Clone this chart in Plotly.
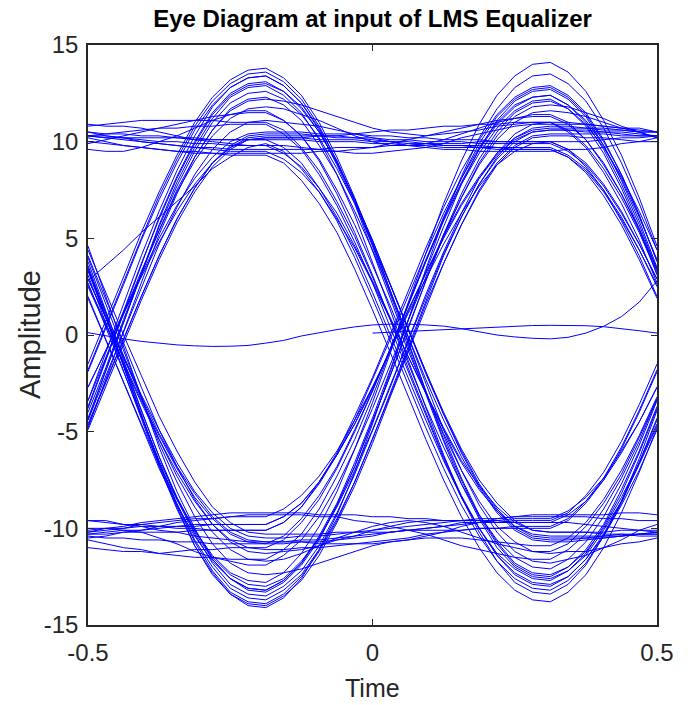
import plotly.graph_objects as go

# ---------------- data ----------------
T_FULL = [-0.5, -0.46875, -0.4375, -0.40625, -0.375, -0.34375, -0.3125, -0.28125,
          -0.25, -0.21875, -0.1875, -0.15625, -0.125, -0.09375, -0.0625, -0.03125,
          0.0, 0.03125, 0.0625, 0.09375, 0.125, 0.15625, 0.1875, 0.21875,
          0.25, 0.28125, 0.3125, 0.34375, 0.375, 0.40625, 0.4375, 0.46875, 0.5]
T_HALF = [0.0, 0.03125, 0.0625, 0.09375, 0.125, 0.15625, 0.1875, 0.21875,
          0.25, 0.28125, 0.3125, 0.34375, 0.375, 0.40625, 0.4375, 0.46875, 0.5]

TR_B = [0.1, 0.14, 0.18, 0.22, 0.27, 0.32, 0.37, 0.42, 0.46, 0.49, 0.5, 0.5, 0.48, 0.43, 0.34, 0.22, 0.1]
TR_A = [0.12, -0.05, -0.2, -0.33, -0.43, -0.51, -0.56, -0.59, -0.58, -0.54,
        -0.42, -0.28, -0.05, 0.12, 0.28, 0.42, 0.52, 0.56, 0.56, 0.52, 0.46, 0.33, 0.15, 0.0, -0.1, -0.17,
        -0.2, -0.12, 0.1, 0.45, 0.95, 1.7, 2.8]
TR00 = [2.8, 3.6, 4.4, 5.3, 6.1, 6.9, 7.7, 8.6, 9.2, 9.7, 9.9, 9.5, 8.6, 7.4, 5.9, 4.0, 1.9, -0.3, -2.6, -4.8, -6.9, -8.8, -10.4, -11.7, -12.6, -13.1, -13.2, -12.7, -11.8, -10.4, -8.7, -6.6, -4.3]
TR01 = [-4.3, -1.8, 0.7, 3.2, 5.6, 7.7, 9.5, 11.0, 12.0, 12.5, 12.6, 12.2, 11.4, 10.2, 8.6, 6.8, 4.7, 2.6, 0.3, -1.9, -4.0, -5.9, -7.5, -8.7, -9.6, -10.1, -10.2, -10.2, -10.2, -10.2, -10.1, -10.1, -10.1]
TR02 = [-10.1, -10.0, -10.0, -9.9, -9.9, -9.9, -9.8, -9.8, -9.8, -9.8, -9.8, -9.4, -8.7, -7.6, -6.2, -4.6, -2.8, -0.8, 1.2, 3.2, 5.0, 6.7, 8.1, 9.3, 10.1, 10.5, 10.6, 10.6, 10.5, 10.5, 10.4, 10.3, 10.3]
TR03 = [10.3, 10.2, 10.1, 10.0, 9.9, 9.8, 9.7, 9.7, 9.6, 9.6, 9.6, 9.6, 9.6, 9.6, 9.7, 9.7, 9.7, 9.8, 9.8, 9.9, 9.9, 9.9, 10.0, 10.0, 10.0, 10.0, 10.0, 9.6, 8.9, 7.8, 6.4, 4.7, 2.9]
TR04 = [2.9, 0.9, -1.2, -3.2, -5.1, -6.8, -8.2, -9.4, -10.2, -10.6, -10.7, -10.7, -10.6, -10.6, -10.5, -10.4, -10.3, -10.2, -10.1, -10.0, -9.9, -9.8, -9.7, -9.7, -9.6, -9.6, -9.6, -9.2, -8.3, -7.1, -5.5, -3.6, -1.5]
TR05 = [-1.5, 0.7, 3.0, 5.3, 7.4, 9.3, 11.0, 12.3, 13.2, 13.7, 13.8, 13.3, 12.4, 11.0, 9.2, 7.1, 4.8, 2.3, -0.3, -2.9, -5.2, -7.4, -9.3, -10.7, -11.8, -12.3, -12.4, -12.0, -11.2, -10.0, -8.4, -6.6, -4.6]
TR06 = [-4.6, -2.4, -0.2, 2.0, 4.1, 6.0, 7.6, 8.9, 9.7, 10.2, 10.3, 10.3, 10.3, 10.3, 10.2, 10.2, 10.2, 10.1, 10.1, 10.0, 10.0, 10.0, 9.9, 9.9, 9.9, 9.9, 9.9, 9.5, 8.8, 7.7, 6.3, 4.7, 2.9]
TR07 = [2.9, 0.9, -1.1, -3.1, -4.9, -6.6, -8.1, -9.2, -10.0, -10.4, -10.5, -10.5, -10.4, -10.4, -10.3, -10.2, -10.1, -10.0, -9.9, -9.8, -9.7, -9.6, -9.5, -9.5, -9.4, -9.4, -9.4, -9.4, -9.4, -9.5, -9.5, -9.6, -9.6]
TR08 = [-9.6, -9.7, -9.8, -9.8, -9.9, -10.0, -10.0, -10.1, -10.1, -10.1, -10.1, -9.7, -8.9, -7.6, -6.1, -4.2, -2.2, 0.0, 2.3, 4.5, 6.6, 8.5, 10.1, 11.4, 12.3, 12.8, 12.9, 12.4, 11.5, 10.1, 8.3, 6.2, 3.8]
TR09 = [3.8, 1.3, -1.3, -3.9, -6.3, -8.5, -10.3, -11.8, -12.9, -13.4, -13.5, -13.0, -12.2, -10.9, -9.2, -7.2, -5.0, -2.7, -0.3, 2.1, 4.3, 6.3, 8.1, 9.4, 10.4, 10.9, 11.0, 11.0, 10.9, 10.8, 10.7, 10.6, 10.5]
TR10 = [10.5, 10.3, 10.2, 10.0, 9.9, 9.8, 9.7, 9.6, 9.5, 9.5, 9.5, 9.1, 8.4, 7.4, 6.0, 4.5, 2.7, 0.8, -1.1, -3.0, -4.8, -6.5, -7.8, -8.9, -9.7, -10.1, -10.2, -10.2, -10.2, -10.3, -10.3, -10.4, -10.4]
TR11 = [-10.4, -10.5, -10.5, -10.6, -10.6, -10.7, -10.7, -10.8, -10.8, -10.8, -10.8, -10.4, -9.5, -8.3, -6.8, -4.9, -2.9, -0.7, 1.6, 3.8, 5.9, 7.8, 9.4, 10.7, 11.6, 12.1, 12.2, 11.7, 10.8, 9.4, 7.6, 5.5, 3.1]
TR12 = [3.1, 0.6, -1.9, -4.4, -6.8, -9.0, -10.9, -12.3, -13.4, -13.9, -14.0, -13.5, -12.7, -11.4, -9.7, -7.8, -5.6, -3.2, -0.9, 1.5, 3.7, 5.7, 7.5, 8.9, 9.8, 10.3, 10.4, 10.4, 10.4, 10.4, 10.3, 10.3, 10.3]
TR13 = [10.3, 10.3, 10.2, 10.2, 10.2, 10.2, 10.1, 10.1, 10.1, 10.1, 10.1, 9.7, 8.9, 7.6, 6.1, 4.3, 2.2, 0.0, -2.2, -4.4, -6.5, -8.4, -10.0, -11.3, -12.1, -12.6, -12.7, -12.2, -11.3, -9.9, -8.2, -6.1, -3.8]
TR14 = [-3.8, -1.3, 1.2, 3.7, 6.1, 8.2, 10.0, 11.5, 12.5, 13.0, 13.1, 12.6, 11.8, 10.5, 8.9, 7.0, 4.9, 2.6, 0.3, -2.0, -4.1, -6.1, -7.8, -9.1, -10.0, -10.5, -10.6, -10.6, -10.5, -10.5, -10.4, -10.3, -10.2]
TR15 = [-10.2, -10.1, -10.0, -9.8, -9.7, -9.6, -9.5, -9.5, -9.4, -9.4, -9.4, -9.0, -8.3, -7.3, -6.0, -4.4, -2.7, -0.8, 1.1, 2.9, 4.7, 6.3, 7.7, 8.8, 9.5, 9.9, 10.0, 10.0, 10.0, 10.1, 10.2, 10.2, 10.3]
TR16 = [10.3, 10.4, 10.5, 10.6, 10.7, 10.7, 10.8, 10.8, 10.9, 10.9, 10.9, 10.4, 9.6, 8.3, 6.7, 4.8, 2.7, 0.4, -1.9, -4.2, -6.4, -8.4, -10.0, -11.4, -12.3, -12.8, -12.9, -12.5, -11.6, -10.4, -8.8, -7.0, -4.9]
TR17 = [-4.9, -2.7, -0.4, 1.8, 3.9, 5.8, 7.4, 8.7, 9.6, 10.1, 10.2, 10.2, 10.2, 10.1, 10.1, 10.1, 10.0, 10.0, 9.9, 9.9, 9.8, 9.8, 9.8, 9.7, 9.7, 9.7, 9.7, 9.3, 8.6, 7.5, 6.1, 4.4, 2.5]
TR18 = [2.5, 0.5, -1.5, -3.5, -5.4, -7.1, -8.6, -9.8, -10.6, -11.0, -11.1, -11.1, -11.0, -11.0, -10.9, -10.8, -10.7, -10.6, -10.5, -10.3, -10.2, -10.1, -10.0, -10.0, -9.9, -9.9, -9.9, -9.5, -8.6, -7.4, -5.8, -3.9, -1.8]
TR19 = [-1.8, 0.5, 2.8, 5.0, 7.2, 9.1, 10.8, 12.1, 13.0, 13.5, 13.6, 13.1, 12.2, 10.8, 9.0, 6.9, 4.6, 2.1, -0.5, -3.0, -5.4, -7.5, -9.4, -10.8, -11.9, -12.4, -12.5, -12.0, -11.1, -9.8, -8.0, -6.0, -3.7]
TR20 = [-3.7, -1.2, 1.2, 3.7, 6.0, 8.1, 9.9, 11.4, 12.4, 12.9, 13.0, 12.6, 11.7, 10.5, 8.9, 7.0, 4.9, 2.6, 0.3, -1.9, -4.1, -6.0, -7.7, -9.0, -9.9, -10.4, -10.5, -10.5, -10.5, -10.4, -10.4, -10.3, -10.3]
TR21 = [-10.3, -10.2, -10.1, -10.1, -10.0, -9.9, -9.9, -9.8, -9.8, -9.8, -9.8, -9.4, -8.7, -7.6, -6.2, -4.6, -2.7, -0.8, 1.3, 3.2, 5.1, 6.8, 8.2, 9.4, 10.2, 10.6, 10.7, 10.7, 10.7, 10.6, 10.6, 10.5, 10.5]
TR22 = [10.5, 10.4, 10.4, 10.3, 10.3, 10.2, 10.2, 10.1, 10.1, 10.1, 10.1, 10.1, 10.1, 10.0, 10.0, 10.0, 9.9, 9.9, 9.8, 9.8, 9.7, 9.7, 9.7, 9.6, 9.6, 9.6, 9.6, 9.2, 8.4, 7.2, 5.7, 3.9, 1.9]
TR23 = [1.9, -0.3, -2.5, -4.6, -6.7, -8.5, -10.1, -11.4, -12.3, -12.7, -12.8, -12.3, -11.3, -9.9, -8.1, -5.9, -3.5, -0.9, 1.7, 4.3, 6.8, 9.0, 10.9, 12.4, 13.4, 14.0, 14.1, 13.6, 12.6, 11.1, 9.3, 7.1, 4.6]
TR24 = [4.6, 2.0, -0.7, -3.3, -5.8, -8.1, -10.0, -11.6, -12.6, -13.2, -13.3, -12.8, -11.9, -10.6, -8.8, -6.8, -4.5, -2.1, 0.4, 2.8, 5.2, 7.3, 9.1, 10.5, 11.5, 12.0, 12.1, 11.7, 10.9, 9.7, 8.2, 6.4, 4.4]
TR25 = [4.4, 2.2, 0.0, -2.1, -4.2, -6.0, -7.6, -8.9, -9.7, -10.2, -10.3, -10.3, -10.3, -10.3, -10.2, -10.2, -10.2, -10.2, -10.1, -10.1, -10.1, -10.1, -10.0, -10.0, -10.0, -10.0, -10.0, -9.6, -8.7, -7.5, -5.9, -4.0, -1.9]
TR26 = [-1.9, 0.3, 2.6, 4.9, 7.0, 8.9, 10.6, 11.9, 12.8, 13.3, 13.4, 12.9, 12.0, 10.6, 8.8, 6.8, 4.4, 1.9, -0.6, -3.1, -5.5, -7.7, -9.5, -11.0, -12.0, -12.5, -12.6, -12.2, -11.4, -10.1, -8.6, -6.7, -4.7]
TR27 = [-4.7, -2.5, -0.2, 2.0, 4.1, 6.0, 7.6, 8.9, 9.8, 10.3, 10.4, 10.4, 10.4, 10.3, 10.3, 10.2, 10.1, 10.0, 10.0, 9.9, 9.8, 9.8, 9.7, 9.7, 9.6, 9.6, 9.6, 9.2, 8.5, 7.4, 6.0, 4.4, 2.6]
TR28 = [2.6, 0.6, -1.4, -3.4, -5.2, -6.9, -8.4, -9.5, -10.3, -10.7, -10.8, -10.8, -10.7, -10.7, -10.6, -10.5, -10.4, -10.2, -10.1, -10.0, -9.9, -9.7, -9.7, -9.6, -9.5, -9.5, -9.5, -9.1, -8.4, -7.4, -6.0, -4.5, -2.7]
TR29 = [-2.7, -0.8, 1.1, 3.0, 4.8, 6.4, 7.8, 8.9, 9.7, 10.1, 10.2, 10.2, 10.2, 10.3, 10.3, 10.4, 10.5, 10.6, 10.6, 10.7, 10.8, 10.8, 10.9, 10.9, 11.0, 11.0, 11.0, 10.5, 9.7, 8.4, 6.8, 4.9, 2.7]
TR30 = [2.7, 0.4, -1.9, -4.3, -6.5, -8.4, -10.1, -11.5, -12.4, -12.9, -13.0, -12.6, -11.7, -10.5, -8.9, -7.0, -4.9, -2.6, -0.3, 2.0, 4.2, 6.1, 7.8, 9.1, 10.0, 10.5, 10.6, 10.6, 10.6, 10.5, 10.5, 10.4, 10.3]
TR31 = [10.3, 10.2, 10.2, 10.1, 10.0, 10.0, 9.9, 9.9, 9.8, 9.8, 9.8, 9.4, 8.7, 7.6, 6.3, 4.6, 2.8, 0.9, -1.1, -3.0, -4.9, -6.6, -8.0, -9.1, -9.9, -10.3, -10.4, -10.4, -10.4, -10.4, -10.3, -10.3, -10.3]
TR32 = [-10.3, -10.3, -10.2, -10.2, -10.2, -10.2, -10.1, -10.1, -10.1, -10.1, -10.1, -9.7, -8.9, -7.7, -6.2, -4.4, -2.3, -0.2, 2.0, 4.2, 6.3, 8.1, 9.7, 11.0, 11.9, 12.3, 12.4, 11.9, 11.0, 9.6, 7.8, 5.7, 3.4]
TR33 = [3.4, 0.9, -1.7, -4.2, -6.6, -8.7, -10.6, -12.0, -13.1, -13.6, -13.7, -13.2, -12.4, -11.1, -9.5, -7.6, -5.4, -3.1, -0.8, 1.6, 3.7, 5.7, 7.4, 8.8, 9.7, 10.2, 10.3, 10.3, 10.2, 10.2, 10.1, 10.0, 10.0]
TR34 = [10.0, 9.9, 9.8, 9.7, 9.6, 9.5, 9.4, 9.4, 9.3, 9.3, 9.3, 8.9, 8.0, 6.8, 5.3, 3.4, 1.3, -0.9, -3.1, -5.4, -7.5, -9.4, -11.0, -12.3, -13.2, -13.7, -13.8, -13.3, -12.4, -11.0, -9.2, -7.1, -4.8]
TR35 = [-4.8, -2.3, 0.3, 2.8, 5.2, 7.3, 9.2, 10.6, 11.7, 12.2, 12.3, 11.9, 11.1, 9.8, 8.3, 6.4, 4.4, 2.2, -0.1, -2.3, -4.4, -6.3, -7.9, -9.2, -10.1, -10.6, -10.7, -10.7, -10.6, -10.5, -10.4, -10.3, -10.2]
TR36 = [-10.2, -10.0, -9.9, -9.7, -9.6, -9.5, -9.4, -9.3, -9.2, -9.2, -9.2, -9.2, -9.2, -9.3, -9.3, -9.3, -9.4, -9.4, -9.5, -9.5, -9.6, -9.6, -9.6, -9.7, -9.7, -9.7, -9.7, -9.3, -8.6, -7.5, -6.1, -4.5, -2.7]
TR37 = [-2.7, -0.8, 1.2, 3.1, 5.0, 6.7, 8.1, 9.2, 10.0, 10.4, 10.5, 10.5, 10.5, 10.4, 10.4, 10.4, 10.3, 10.3, 10.2, 10.2, 10.1, 10.1, 10.1, 10.0, 10.0, 10.0, 10.0, 9.6, 8.7, 7.5, 5.9, 4.1, 2.0]
TR38 = [2.0, -0.2, -2.5, -4.7, -6.9, -8.8, -10.4, -11.7, -12.6, -13.1, -13.2, -12.7, -11.8, -10.4, -8.7, -6.6, -4.3, -1.8, 0.8, 3.3, 5.6, 7.8, 9.6, 11.1, 12.1, 12.6, 12.7, 12.2, 11.3, 9.8, 8.0, 5.9, 3.5]
TR39 = [3.5, 1.0, -1.6, -4.2, -6.6, -8.8, -10.7, -12.2, -13.3, -13.8, -13.9, -13.4, -12.5, -11.2, -9.6, -7.6, -5.4, -3.0, -0.6, 1.8, 4.1, 6.1, 7.8, 9.2, 10.2, 10.7, 10.8, 10.8, 10.7, 10.7, 10.6, 10.5, 10.5]
TR40 = [-3.4, -1.2, 1.1, 3.3, 5.4, 7.4, 9.0, 10.3, 11.2, 11.7, 11.8, 11.7, 11.4, 11.1, 10.7, 10.3, 10.0, 9.8, 9.8, 9.9, 10.1, 10.4, 10.7, 11.0, 11.2, 11.4, 11.4, 11.0, 10.1, 8.9, 7.3, 5.4, 3.3]
TR41 = [9.6, 9.5, 9.5, 9.7, 10.0, 10.3, 10.7, 11.1, 11.4, 11.6, 11.6, 11.1, 10.3, 9.0, 7.3, 5.3, 3.1, 0.8, -1.7, -4.0, -6.3, -8.3, -10.0, -11.4, -12.4, -12.9, -13.0, -12.5, -11.6, -10.3, -8.6, -6.6, -4.4]
TR42 = [-10.0, -10.0, -10.1, -10.2, -10.5, -10.8, -11.2, -11.5, -11.7, -11.9, -11.9, -11.4, -10.6, -9.4, -7.8, -5.9, -3.8, -1.5, 0.8, 3.0, 5.2, 7.1, 8.8, 10.1, 11.0, 11.5, 11.6, 11.5, 11.3, 11.0, 10.7, 10.5, 10.2]
TR43 = [3.4, 1.2, -1.1, -3.3, -5.4, -7.3, -8.9, -10.2, -11.1, -11.6, -11.7, -11.6, -11.3, -10.9, -10.5, -10.2, -9.9, -9.7, -9.6, -9.7, -9.9, -10.2, -10.5, -10.8, -11.0, -11.2, -11.2, -10.8, -9.9, -8.7, -7.2, -5.3, -3.3]
TR44 = [10.2, 10.0, 9.8, 9.7, 9.6, 9.5, 9.5, 9.4, 9.4, 9.4, 9.4, 9.4, 9.4, 9.5, 9.5, 9.6, 9.7, 9.9, 10.1, 10.3, 10.5, 10.7, 10.9, 11.1, 11.2, 11.3, 11.3, 10.9, 10.1, 8.8, 7.3, 5.5, 3.4]
TR45 = [-10.5, -10.4, -10.2, -10.1, -9.9, -9.7, -9.6, -9.5, -9.4, -9.3, -9.3, -9.3, -9.3, -9.4, -9.4, -9.6, -9.7, -9.9, -10.1, -10.3, -10.6, -10.9, -11.1, -11.3, -11.5, -11.6, -11.6, -11.1, -10.3, -9.0, -7.4, -5.5, -3.3]
TR46 = [3.3, 0.9, -1.6, -4.0, -6.3, -8.4, -10.2, -11.6, -12.6, -13.1, -13.2, -12.7, -11.8, -10.5, -8.8, -6.8, -4.5, -2.1, 0.3, 2.8, 5.1, 7.1, 8.9, 10.3, 11.3, 11.8, 11.9, 11.8, 11.5, 11.2, 10.8, 10.5, 10.2]
TR47 = [-3.4, -0.9, 1.6, 4.1, 6.4, 8.5, 10.3, 11.8, 12.8, 13.3, 13.4, 12.9, 12.0, 10.7, 9.0, 7.0, 4.7, 2.3, -0.2, -2.6, -4.9, -7.0, -8.8, -10.2, -11.2, -11.7, -11.8, -11.6, -11.4, -11.0, -10.6, -10.1, -9.8]
TR48 = [9.9, 10.1, 10.3, 10.5, 10.7, 10.9, 11.1, 11.3, 11.4, 11.5, 11.5, 11.1, 10.3, 9.1, 7.5, 5.7, 3.6, 1.5, -0.8, -3.0, -5.1, -7.0, -8.6, -9.9, -10.7, -11.2, -11.3, -11.2, -11.2, -11.0, -10.8, -10.7, -10.5]
TR49 = [-10.6, -10.8, -11.0, -11.1, -11.3, -11.4, -11.5, -11.5, -11.6, -11.6, -11.6, -11.1, -10.3, -9.0, -7.3, -5.4, -3.2, -0.8, 1.5, 3.9, 6.1, 8.1, 9.9, 11.3, 12.2, 12.7, 12.8, 12.3, 11.4, 10.0, 8.3, 6.2, 3.8]
TR50 = [-4.4, -2.1, 0.2, 2.5, 4.7, 6.6, 8.3, 9.6, 10.5, 11.0, 11.1, 11.0, 10.9, 10.8, 10.6, 10.4, 10.2, 10.0, 9.8, 9.7, 9.6, 9.6, 9.5, 9.5, 9.5, 9.5, 9.5, 9.6, 9.6, 9.7, 9.9, 10.0, 10.2]
TR51 = [4.1, 1.9, -0.4, -2.7, -4.9, -6.8, -8.5, -9.8, -10.7, -11.2, -11.3, -11.2, -11.1, -10.9, -10.6, -10.4, -10.1, -9.9, -9.7, -9.6, -9.6, -9.6, -9.6, -9.6, -9.7, -9.7, -9.7, -9.7, -9.8, -9.9, -10.0, -10.1, -10.2]
TR52 = [10.9, 10.8, 10.8, 10.7, 10.5, 10.3, 10.1, 10.0, 9.9, 9.8, 9.8, 9.8, 9.7, 9.6, 9.5, 9.4, 9.4, 9.5, 9.6, 9.7, 9.9, 10.2, 10.4, 10.6, 10.8, 10.9, 10.9, 10.9, 10.9, 10.8, 10.7, 10.7, 10.5]
TR53 = [-9.6, -9.6, -9.8, -9.9, -10.1, -10.2, -10.4, -10.5, -10.6, -10.7, -10.7, -10.7, -10.7, -10.8, -10.8, -10.8, -10.8, -10.7, -10.6, -10.4, -10.2, -9.9, -9.7, -9.5, -9.4, -9.3, -9.3, -9.3, -9.3, -9.3, -9.2, -9.2, -9.3]
TR54 = [3.6, 1.1, -1.6, -4.2, -6.7, -8.9, -10.9, -12.4, -13.4, -14.0, -14.1, -13.6, -12.6, -11.1, -9.3, -7.1, -4.6, -1.9, 0.8, 3.4, 6.0, 8.2, 10.2, 11.7, 12.8, 13.4, 13.5, 13.0, 12.1, 10.7, 8.9, 6.8, 4.4]
TR55 = [-4.4, -1.9, 0.7, 3.2, 5.7, 7.9, 9.7, 11.2, 12.3, 12.8, 12.9, 12.4, 11.5, 10.1, 8.3, 6.2, 3.8, 1.3, -1.3, -3.8, -6.2, -8.4, -10.2, -11.7, -12.8, -13.3, -13.4, -12.9, -11.9, -10.4, -8.6, -6.4, -3.9]
TR56 = [-4.0, -1.7, 0.8, 3.2, 5.4, 7.5, 9.2, 10.6, 11.6, 12.1, 12.2, 12.1, 11.9, 11.6, 11.3, 11.0, 10.7, 10.5, 10.4, 10.3, 10.4, 10.5, 10.6, 10.8, 10.9, 11.0, 11.0, 10.6, 9.8, 8.6, 7.1, 5.3, 3.2]
TR57 = [4.0, 1.6, -0.8, -3.3, -5.6, -7.6, -9.4, -10.8, -11.8, -12.3, -12.4, -12.3, -12.1, -11.8, -11.5, -11.2, -10.9, -10.7, -10.6, -10.5, -10.5, -10.5, -10.6, -10.7, -10.8, -10.9, -10.9, -10.5, -9.7, -8.5, -7.0, -5.2, -3.2]
TR58 = [10.8, 10.9, 11.0, 11.1, 11.1, 11.1, 11.1, 11.1, 11.0, 11.0, 11.0, 10.6, 9.7, 8.5, 6.9, 5.1, 3.0, 0.8, -1.5, -3.7, -5.8, -7.7, -9.3, -10.6, -11.5, -12.0, -12.1, -11.6, -10.7, -9.4, -7.7, -5.7, -3.4]
TR59 = [-11.0, -11.1, -11.2, -11.2, -11.3, -11.2, -11.1, -11.1, -11.0, -11.0, -11.0, -10.6, -9.7, -8.5, -6.9, -5.0, -2.9, -0.7, 1.6, 3.9, 6.0, 7.9, 9.6, 10.9, 11.8, 12.3, 12.4, 11.9, 11.1, 9.8, 8.1, 6.1, 3.9]

TITLE = "Eye Diagram at input of LMS Equalizer"
X_LABEL = "Time"
Y_LABEL = "Amplitude"
X_TICKS = [-0.5, 0, 0.5]
X_TICK_TEXT = ["-0.5", "0", "0.5"]
Y_TICKS = [-15, -10, -5, 0, 5, 10, 15]
Y_TICK_TEXT = ["-15", "-10", "-5", "0", "5", "10", "15"]

FULL_TRACES = [TR_A, TR00, TR01, TR02, TR03, TR04, TR05, TR06, TR07, TR08, TR09,
               TR10, TR11, TR12, TR13, TR14, TR15, TR16, TR17, TR18, TR19,
               TR20, TR21, TR22, TR23, TR24, TR25, TR26, TR27, TR28, TR29,
               TR30, TR31, TR32, TR33, TR34, TR35, TR36, TR37, TR38, TR39,
               TR40, TR41, TR42, TR43, TR44, TR45, TR46, TR47, TR48, TR49,
               TR50, TR51, TR52, TR53, TR54, TR55, TR56, TR57, TR58, TR59]

# ---------------- figure ----------------
LINE = dict(color="#0000FF", width=1)
FONT = "Liberation Sans, Arial, sans-serif"
AX = "#262626"

fig = go.Figure()
fig.add_trace(go.Scatter(x=T_HALF, y=TR_B, mode="lines", line=LINE, showlegend=False, hoverinfo="skip"))
for tr in FULL_TRACES:
    fig.add_trace(go.Scatter(x=T_FULL, y=tr, mode="lines", line=LINE, showlegend=False, hoverinfo="skip"))

W, H = 692, 705
L, R, T, B = 88, 35, 45, 80
pw, ph = W - L - R, H - T - B

fig.update_layout(
    width=W, height=H, autosize=False,
    margin=dict(l=L, r=R, t=T, b=B, pad=0),
    paper_bgcolor="white", plot_bgcolor="white",
    showlegend=False,
    title=dict(text=TITLE, x=(L + pw / 2) / W, xanchor="center", xref="container",
               y=1 - 19 / H, yanchor="middle", yref="container",
               font=dict(family=FONT, size=24, color="#000000", weight="bold")),
    xaxis=dict(range=[-0.5, 0.5], tickvals=X_TICKS, ticktext=X_TICK_TEXT,
               showgrid=False, zeroline=False, showline=True, linecolor=AX, linewidth=1.5,
               mirror="ticks", ticks="inside", ticklen=6, tickwidth=1.2, tickcolor=AX,
               tickfont=dict(family=FONT, size=24, color=AX), ticklabelstandoff=5),
    yaxis=dict(range=[-15, 15], tickvals=Y_TICKS, ticktext=Y_TICK_TEXT,
               showgrid=False, zeroline=False, showline=True, linecolor=AX, linewidth=1.5,
               mirror="ticks", ticks="inside", ticklen=6, tickwidth=1.2, tickcolor=AX,
               tickfont=dict(family=FONT, size=24, color=AX), ticklabelstandoff=3),
    annotations=[
        dict(text=X_LABEL, xref="paper", yref="paper", x=0.5, y=(625 - 688) / ph,
             xanchor="center", yanchor="middle", showarrow=False,
             font=dict(family=FONT, size=25, color=AX)),
        dict(text=Y_LABEL, xref="paper", yref="paper", x=(30 - L) / pw, y=0.5,
             xanchor="center", yanchor="middle", showarrow=False, textangle=-90,
             font=dict(family=FONT, size=29, color=AX)),
    ],
)

fig.write_html("out.html")
